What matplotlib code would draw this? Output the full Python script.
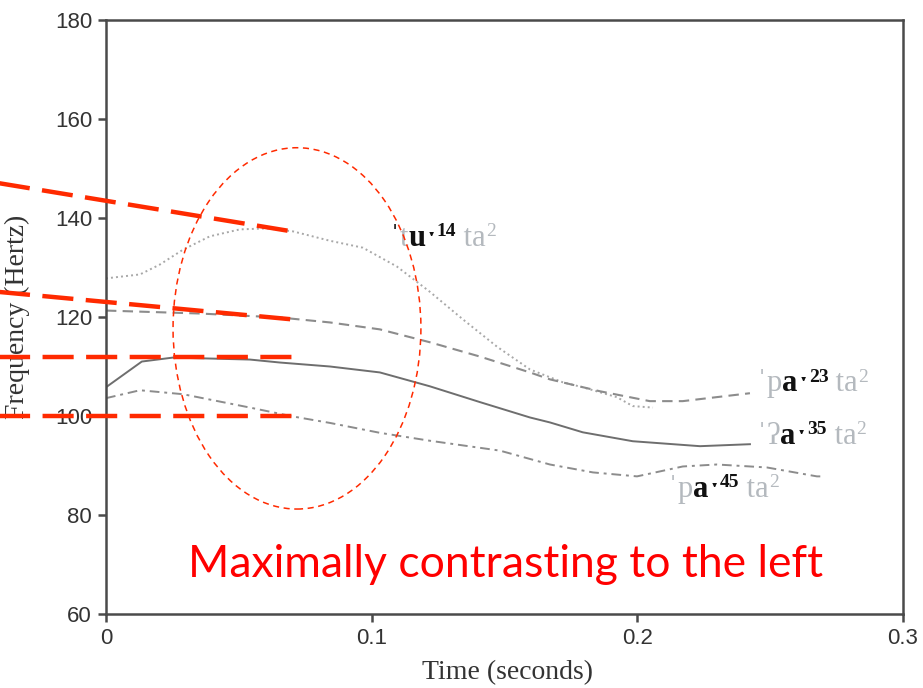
import matplotlib.pyplot as plt
from matplotlib.patches import Ellipse

# F0 contours (time in s, frequency in Hz)
t_u14 = [0, 0.0128, 0.0203, 0.029, 0.0391, 0.0504, 0.0606, 0.0704, 0.0843, 0.0967,
         0.1095, 0.1219, 0.1344, 0.1472, 0.1596, 0.172, 0.1795, 0.1923, 0.1983, 0.2059]
f_u14 = [127.8, 128.6, 130.6, 133.6, 136.3, 137.7, 137.9, 137.3, 135.4, 134.0,
         130.2, 125.1, 119.5, 114.0, 109.4, 106.8, 105.8, 103.8, 102.0, 101.7]

t_a23 = [0, 0.0354, 0.0655, 0.0843, 0.1031, 0.1219, 0.1408, 0.1596, 0.1671,
         0.1859, 0.2047, 0.2171, 0.2424]
f_a23 = [121.3, 120.7, 119.9, 118.9, 117.5, 114.9, 112.0, 108.8, 107.4,
         105.0, 103.0, 103.0, 104.6]

t_a35 = [0, 0.0135, 0.0252, 0.0542, 0.0655, 0.0843, 0.1031, 0.1219, 0.1408,
         0.1596, 0.1671, 0.1795, 0.1983, 0.2236, 0.2424]
f_a35 = [105.8, 111.0, 111.8, 111.4, 110.8, 110.0, 108.8, 106.0, 102.8,
         99.7, 98.7, 96.7, 94.9, 93.9, 94.3]

t_a45 = [0, 0.0128, 0.029, 0.0542, 0.0704, 0.0843, 0.1031, 0.1219, 0.1483,
         0.1671, 0.1833, 0.1999, 0.2171, 0.2299, 0.2488, 0.2676, 0.2690]
f_a45 = [103.6, 105.2, 104.4, 101.7, 99.9, 98.6, 96.6, 95.0, 93.0,
         90.2, 88.6, 87.8, 89.8, 90.2, 89.6, 87.8, 87.8]

# contrast guides running off to the left
guide_x = [(-0.041, 0.0711), (-0.041, 0.0705), (-0.041, 0.070), (-0.041, 0.070)]
guide_y = [(147.1, 137.2), (125.1, 119.5), (112.0, 112.0), (100.0, 100.0)]

# region of interest
roi_center = (0.0719, 117.7)
roi_width = 0.0933
roi_height = 73.0

# label anchors (x, baseline y)
lab_u14 = (0.1069, 134.4)
lab_a23 = (0.2450, 105.0)
lab_a35 = (0.2450, 94.3)
lab_a45 = (0.2115, 83.6)

LIGHT = '#b4b9be'
DARK = '#111111'
SERIF = ['Liberation Serif', 'DejaVu Serif']

fig = plt.figure(figsize=(9.23, 6.88), dpi=100)
ax = fig.add_axes([0.1148, 0.1076, 0.8635, 0.8633])

ax.plot(t_u14, f_u14, color='#a8a8a8', lw=1.4, ls=(0, (1, 1.6)))
ax.plot(t_a23, f_a23, color='#8c8c8c', lw=1.5, ls=(0, (5, 3)))
ax.plot(t_a35, f_a35, color='#6e6e6e', lw=1.4, ls='-')
ax.plot(t_a45, f_a45, color='#8c8c8c', lw=1.4, ls=(0, (5, 2.5, 1.5, 2.5)))

for gx, gy in zip(guide_x, guide_y):
    ax.plot(gx, gy, color='#ff2a00', lw=3.2, ls=(0, (7, 2.8)), clip_on=False,
            zorder=5)

ax.add_patch(Ellipse(roi_center, roi_width, roi_height, fill=False,
                     edgecolor='#ff2a00', lw=1.1, ls=(0, (4, 3)), zorder=5))


def phon_label(ax, pos, parts):
    x, y = pos
    prev = None
    for text, color, bold, sup in parts:
        fam = ['DejaVu Serif'] if text == 'ˑ' else SERIF
        kw = dict(color=color, fontweight='bold' if bold else 'normal',
                  fontsize=14 if sup else 22, family=fam, va='baseline',
                  ha='left')
        if prev is None:
            prev = ax.text(x, y, text, **kw)
        else:
            prev = ax.annotate(text, xy=(1, y), xycoords=(prev, 'data'),
                               xytext=(0, 7 if sup else 0),
                               textcoords='offset points', **kw)


def syllables(onset, vowel, tone, onset_col=LIGHT, mark_col=LIGHT):
    return [('ˈ', mark_col, False, False), (onset, onset_col, False, False),
            (vowel, DARK, True, False), ('ˑ', DARK, True, False),
            (tone, DARK, True, True), (' ta', LIGHT, False, False),
            ('2', LIGHT, False, True)]


phon_label(ax, lab_u14, syllables('t', 'u', '14', mark_col=DARK))
phon_label(ax, lab_a23, syllables('p', 'a', '23'))
phon_label(ax, lab_a35, syllables('ʔ', 'a', '35'))
phon_label(ax, lab_a45, syllables('p', 'a', '45'))

ax.set_xlim(0, 0.3)
ax.set_ylim(60, 180)
ax.set_xticks([0, 0.1, 0.2, 0.3])
ax.set_xticklabels(['0', '0.1', '0.2', '0.3'])
ax.set_yticks([60, 80, 100, 120, 140, 160, 180])
for s in ax.spines.values():
    s.set_color('#4a4a4a')
    s.set_linewidth(1.8)
ax.tick_params(direction='out', length=6, width=1.8, color='#4a4a4a',
               labelsize=16, labelcolor='#333333', pad=4)
for lab in ax.get_xticklabels() + ax.get_yticklabels():
    lab.set_family('Liberation Sans')

ax.set_xlabel('Time (seconds)', family='Liberation Serif', fontsize=20,
              color='#333333')
ax.set_ylabel('Frequency (Hertz)', family='Liberation Serif', fontsize=20,
              color='#333333')
ax.xaxis.set_label_coords(0.504, -0.077)
ax.yaxis.set_label_coords(-0.0954, 0.5)

fig.text(0.548, 0.179, 'Maximally contrasting to the left', color='#ff0000',
         family='Lato', fontsize=32, ha='center', va='center')

fig.savefig('out.png', dpi=100)
